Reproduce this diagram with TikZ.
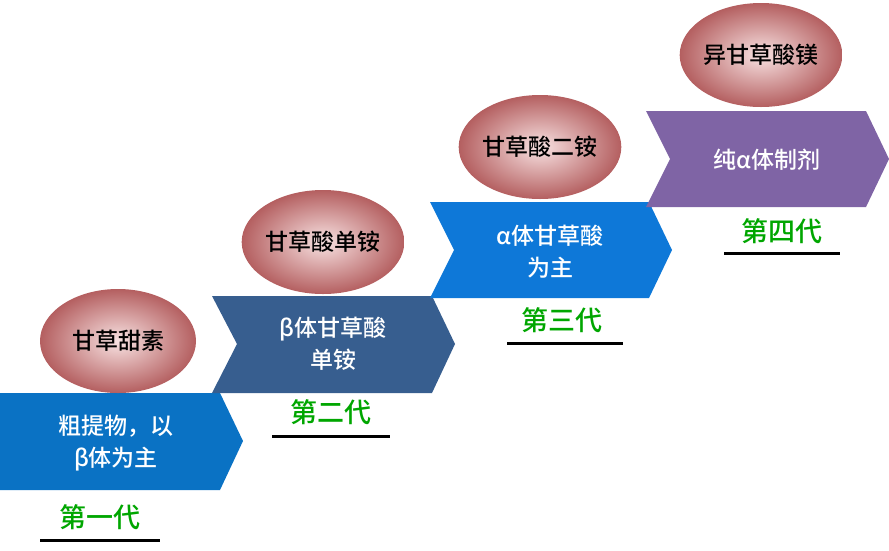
\documentclass[tikz,border=0pt]{standalone}
\usetikzlibrary{shapes.geometric}
\usepackage{fontspec}
\setmainfont{Liberation Serif}
\newfontfamily\cjk{Noto Sans CJK SC Medium}
\begin{document}
\begin{tikzpicture}[x=1pt,y=-1pt,
  egg/.style={ellipse,minimum width=156pt,minimum height=104pt,inner sep=0pt,
    inner color=eggin, outer color=eggout, draw=none,
    font=\cjk\fontsize{23}{26}\selectfont},
  wtxt/.style={text=white,align=center,font=\cjk\fontsize{23}{32}\selectfont},
  gen/.style={text=green!65!black,font=\cjk\fontsize{27}{30}\selectfont},
  uline/.style={line width=3pt,black}]
\definecolor{eggin}{HTML}{F8E2E2}
\definecolor{eggout}{HTML}{B45F60}
\useasboundingbox (0,0) rectangle (889,550);
\definecolor{c1}{HTML}{0A72C4}
\definecolor{c2}{HTML}{375E8F}
\definecolor{c3}{HTML}{0E78D8}
\definecolor{c4}{HTML}{7F64A5}
\fill[c1] (-30,393) -- (220,393) -- (243,441) -- (220,490) -- (-30,490) -- (-7,441) -- cycle;
\fill[c2] (212,296) -- (432,296) -- (455,344) -- (432,393) -- (212,393) -- (237,344) -- cycle;
\fill[c3] (430,202) -- (649,202) -- (672,250) -- (649,298) -- (430,298) -- (454,250) -- cycle;
\fill[c4] (646,111) -- (866,111) -- (889,159) -- (866,207) -- (646,207) -- (670,159) -- cycle;
\node[wtxt] (t1) at (116,443) {粗提物，以\\β体为主};
\node[wtxt] (t2) at (333,344) {β体甘草酸\\单铵};
\node[wtxt] (t3) at (550,252) {α体甘草酸\\为主};
\node[wtxt] (t4) at (767,160) {纯α体制剂};
\node[egg] (e1) at (118,341) {甘草甜素};
\node[egg] (e2) at (323,242) {甘草酸单铵};
\node[egg] (e3) at (540,147) {甘草酸二铵};
\node[egg] (e4) at (761,55) {异甘草酸镁};
\node[gen] (g1) at (100,517) {第一代};
\node[gen] (g2) at (331,412) {第二代};
\node[gen] (g3) at (562,320) {第三代};
\node[gen] (g4) at (782,231) {第四代};
\draw[uline] (40,540) -- (160,540);
\draw[uline] (272,436) -- (390,436);
\draw[uline] (507,343) -- (623,343);
\draw[uline] (724,253) -- (840,253);
\end{tikzpicture}
\end{document}
